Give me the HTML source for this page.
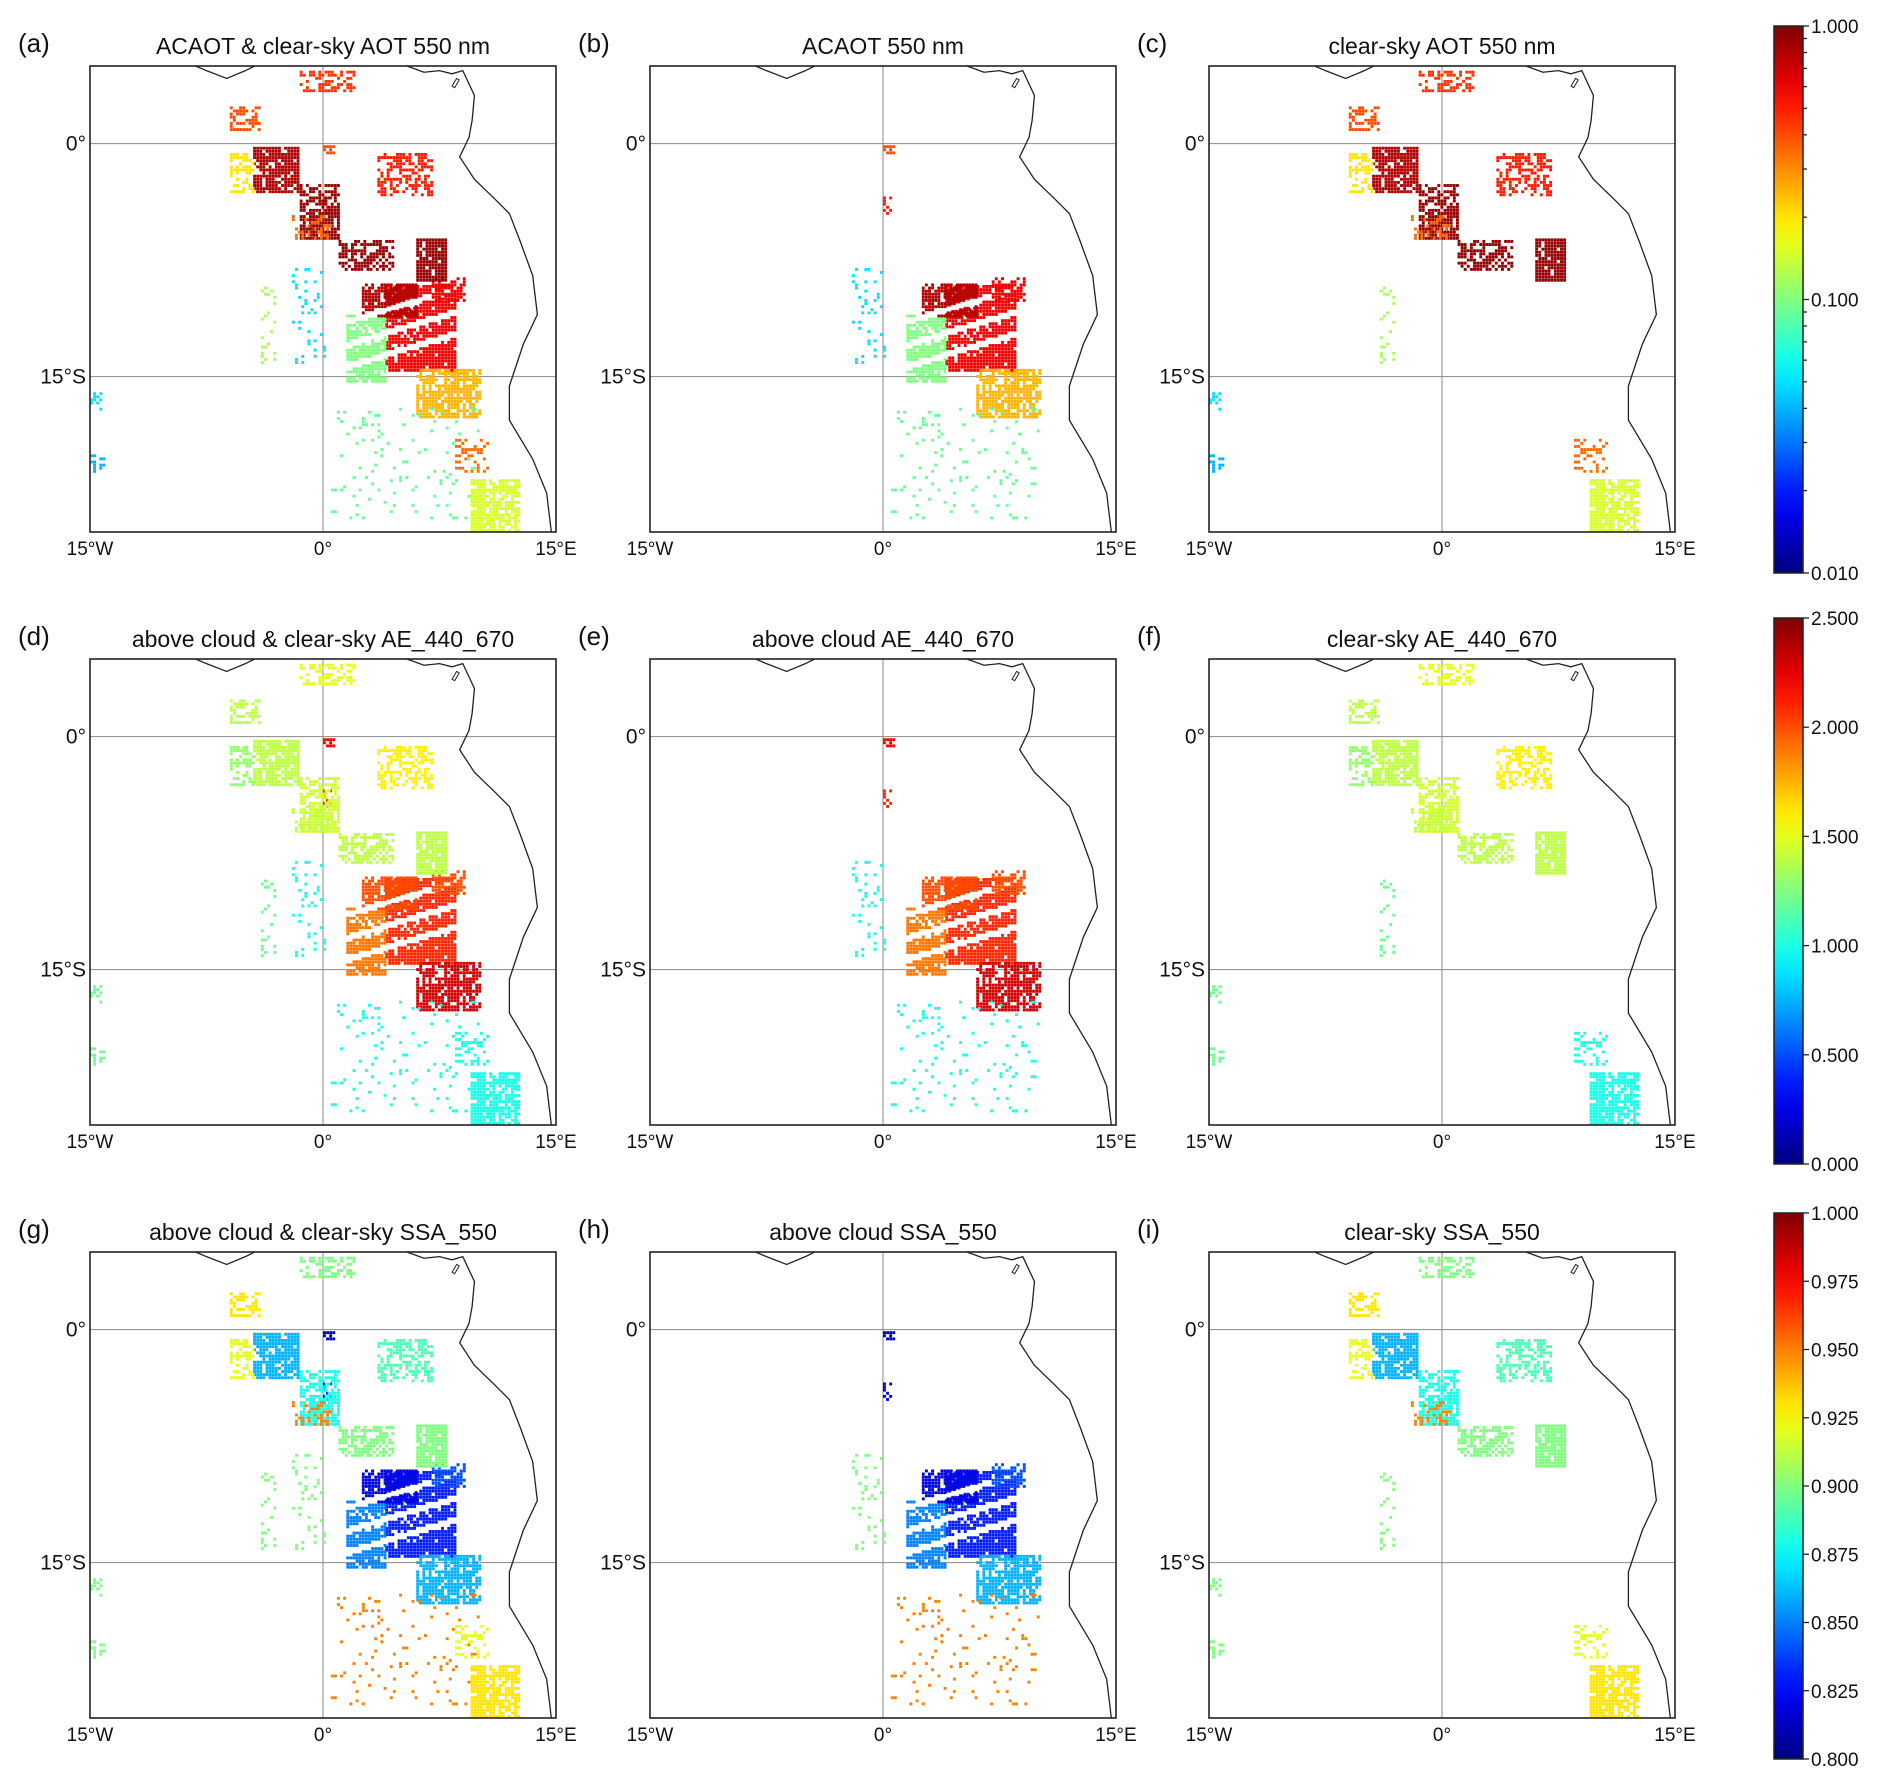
<!DOCTYPE html>
<html><head><meta charset="utf-8"><style>
body{margin:0;background:#fff;}
svg{display:block;font-family:"Liberation Sans","DejaVu Sans",sans-serif;}
</style></head><body>
<svg id="fig" width="1892" height="1788" viewBox="0 0 1892 1788" xmlns="http://www.w3.org/2000/svg"></svg>
<script>
// ---- data ----
const panelTitles = [["ACAOT & clear-sky AOT 550 nm","ACAOT 550 nm","clear-sky AOT 550 nm"],
 ["above cloud & clear-sky AE_440_670","above cloud AE_440_670","clear-sky AE_440_670"],
 ["above cloud & clear-sky SSA_550","above cloud SSA_550","clear-sky SSA_550"]];
const panelLetters = ["(a)","(b)","(c)","(d)","(e)","(f)","(g)","(h)","(i)"];
const xTickLabels = ["15°W","0°","15°E"];
const xTickLons = [-15,0,15];
const yTickLabels = ["0°","15°S"];
const yTickLats = [0,-15];
// clear-sky blobs: lon0, lon1, latTop, latBottom
const csLon0 = [-6,-4.5,-6,-1.5,1,6,3.5,-1.5,9.5,-4,-15,-15,-2,8.5];
const csLon1 = [-4,-1.5,-4.5,1,4.5,8,7,2,12.5,-3,-14.3,-14.2,0.5,10.5];
const csLatT = [2.5,0,-0.5,-2.5,-6,-6,-0.5,4.8,-21.5,-9,-16,-20,-4.5,-19];
const csLatB = [1,-3,-3,-6,-8,-8.7,-3.2,3.5,-25,-14,-17,-21,-6,-21];
const csAOT  = [0.4,0.8,0.2,0.9,0.9,0.9,0.5,0.45,0.15,0.12,0.05,0.04,0.35,0.35];
const csAE   = [1.4,1.4,1.3,1.45,1.4,1.4,1.6,1.5,1.0,1.2,1.2,1.2,1.4,1.0];
const csSSA  = [0.93,0.86,0.92,0.88,0.9,0.9,0.89,0.9,0.93,0.9,0.9,0.9,0.95,0.92];
const csDens = [0.5,0.8,0.5,0.7,0.6,0.9,0.55,0.45,0.8,0.15,0.5,0.5,0.3,0.4];
// above-cloud blobs
const acLon0 = [4,1.5,6,2.5,-2,0.5,0,0,7];
const acLon1 = [8.5,4,10,6,0,10,0.8,0.6,9];
const acLatT = [-9,-11,-14.5,-9,-8,-17,0.5,-3,-8.5];
const acLatB = [-14.5,-15.2,-17.5,-11,-14,-24,-0.5,-5,-10];
const acAOT  = [0.6,0.1,0.25,0.8,0.05,0.09,0.4,0.5,0.6];
const acAE   = [2.1,1.9,2.3,2.0,1.0,1.0,2.2,2.1,2.0];
const acSSA  = [0.83,0.85,0.86,0.82,0.9,0.95,0.81,0.82,0.84];
const acDens = [0.9,0.85,0.8,0.85,0.12,0.05,0.5,0.2,0.7];
const stripeLats = [-10.6,-12.1,-13.5];
// coastline
const coastLon = [5.4,6.5,7.5,8.3,9.0,9.75,9.6,9.4,8.8,9.75,11,12,12.7,13.5,13.8,12.9,12,12,13.5,14.4,14.7];
const coastLat = [5,4.6,4.7,4.5,4.7,3.1,1.5,0.4,-0.85,-2.3,-3.5,-4.5,-6.3,-8.5,-11,-12.9,-15.6,-17.8,-20.3,-22.5,-25];
const coast2Lon = [-8.2,-7.5,-6.2,-5,-4.4];
const coast2Lat = [5,4.7,4.2,4.7,5];
const cb1Labels=["1.000","0.100","0.010"]; const cb1Vals=[1,0.1,0.01];
const cb2Vals=[0,0.5,1,1.5,2,2.5];
const cb3Vals=[0.8,0.825,0.85,0.875,0.9,0.925,0.95,0.975,1.0];

// ---- layout ----
const NS="http://www.w3.org/2000/svg";
const svg=document.getElementById('fig');
function mk(tag,attrs,parent){const e=document.createElementNS(NS,tag);for(const k in attrs)e.setAttribute(k,attrs[k]);(parent||svg).appendChild(e);return e;}
const colX=[90,650,1209], rowY=[66,659,1252], W=466, H=466;
const cbX=1774, cbW=29, cbY=[26,618,1213], cbH=[547,546,546];
function jet(t){t=Math.max(0,Math.min(1,t));
 const r=Math.max(0,Math.min(1,1.5-Math.abs(4*t-3))),g=Math.max(0,Math.min(1,1.5-Math.abs(4*t-2))),b=Math.max(0,Math.min(1,1.5-Math.abs(4*t-1)));
 return `rgb(${Math.round(r*255)},${Math.round(g*255)},${Math.round(b*255)})`;}
const norms=[v=>(Math.log10(v)+2)/2, v=>v/2.5, v=>(v-0.8)/0.2];
function hash(i,j){let h=(i*374761393+j*668265263)>>>0;h=((h^(h>>>13))*1274126177)>>>0;return (h%1000)/1000;}

for(let r=0;r<3;r++)for(let c=0;c<3;c++){
 const x0=colX[c],y0=rowY[r];
 const sx=lon=>x0+(lon+15)/30*W, sy=lat=>y0+(5-lat)/30*H;
 const g=mk('g',{});  
 const cid='clip'+r+c; const cp=mk('clipPath',{id:cid},g); mk('rect',{x:x0,y:y0,width:W,height:H},cp);
 const inner=mk('g',{'clip-path':`url(#${cid})`},g);
 xTickLons.forEach(l=>{const gl=mk('line',{x1:sx(l),x2:sx(l),y1:y0,y2:y0+H,stroke:'#888','stroke-width':1},inner);});
 yTickLats.forEach(l=>{const gl=mk('line',{x1:x0,x2:x0+W,y1:sy(l),y2:sy(l),stroke:'#888','stroke-width':1},inner);});
 const norm=norms[r]; const step=0.2, sz=2.9;
 const pts=mk('g',{},inner);  
 function drawBlobs(L0,L1,T,B,V,D,isAC,seed){
  for(let k=0;k<L0.length;k++){
   for(let lon=L0[k];lon<L1[k];lon+=step)for(let lat=B[k];lat<T[k];lat+=step){
    const i=Math.round(lon/step)+seed,j=Math.round(lat/step);
    if(hash(i+k*31,j)>D[k])continue;
    if(isAC&&k<4){let gap=false;for(const s of stripeLats){const sl=s+(lon-4)*0.3;if(Math.abs(lat-sl)<0.22)gap=true;}if(gap)continue;}
    mk('rect',{x:sx(lon),y:sy(lat),width:sz,height:sz,fill:jet(norm(V[k]))},pts);
   }
  }
 }
 const vals=[[csAOT,acAOT],[csAE,acAE],[csSSA,acSSA]][r];
 if(c!==2)drawBlobs(acLon0,acLon1,acLatT,acLatB,vals[1],acDens,true,7);
 if(c!==1)drawBlobs(csLon0,csLon1,csLatT,csLatB,vals[0],csDens,false,0);
 const cl=mk('polyline',{points:coastLon.map((l,i)=>sx(l)+','+sy(coastLat[i])).join(' '),fill:'none',stroke:'#222','stroke-width':1.3},inner);
 
 mk('polyline',{points:coast2Lon.map((l,i)=>sx(l)+','+sy(coast2Lat[i])).join(' '),fill:'none',stroke:'#222','stroke-width':1.3},inner);
 mk('rect',{x:sx(8.6),y:sy(4.2),width:3,height:9,fill:'none',stroke:'#222','stroke-width':1,transform:`rotate(30 ${sx(8.6)} ${sy(4.2)})`},inner);
 const fr=mk('rect',{x:x0,y:y0,width:W,height:H,fill:'none',stroke:'#222','stroke-width':1.6},g);
 
 xTickLons.forEach((l,i)=>{const t=mk('text',{x:sx(l),y:y0+H+23,'font-size':19,'text-anchor':'middle',fill:'#111'},g);t.textContent=xTickLabels[i];});
 yTickLats.forEach((l,i)=>{const t=mk('text',{x:x0-4,y:sy(l)+7,'font-size':21,'text-anchor':'end',fill:'#111'},g);t.textContent=yTickLabels[i];});
 const tt=mk('text',{x:x0+W/2,y:y0-12,'font-size':23,'text-anchor':'middle',fill:'#111'},g);tt.textContent=panelTitles[r][c];
 const lt=mk('text',{x:x0-72,y:y0-14,'font-size':26,fill:'#111'},g);lt.textContent=panelLetters[r*3+c];
}
const defs=mk('defs',{});const grad=mk('linearGradient',{id:'jetg',x1:0,y1:1,x2:0,y2:0},defs);
for(let i=0;i<=20;i++)mk('stop',{offset:i/20,'stop-color':jet(i/20)},grad);
for(let r=0;r<3;r++){
 const g=mk('g',{});  
 const y0=cbY[r],h=cbH[r];
 mk('rect',{x:cbX,y:y0,width:cbW,height:h,fill:'url(#jetg)',stroke:'#222','stroke-width':1.5},g);
 const norm=norms[r];
 const tick=(v,len,label)=>{const y=y0+h-norm(v)*h;mk('line',{x1:cbX+cbW,x2:cbX+cbW+len,y1:y,y2:y,stroke:'#222','stroke-width':1.3},g);
  if(label){const t=mk('text',{x:cbX+cbW+8,y:y+7,'font-size':19,fill:'#111'},g);t.textContent=label;}};
 if(r===0){cb1Vals.forEach((v,i)=>tick(v,6,cb1Labels[i]));[0.01,0.1].forEach(b=>{for(let m=2;m<10;m++)tick(b*m,4,null);});}
 else if(r===1)cb2Vals.forEach(v=>tick(v,6,v.toFixed(3)));
 else cb3Vals.forEach(v=>tick(v,6,v.toFixed(3)));
}
</script>
</body></html>
